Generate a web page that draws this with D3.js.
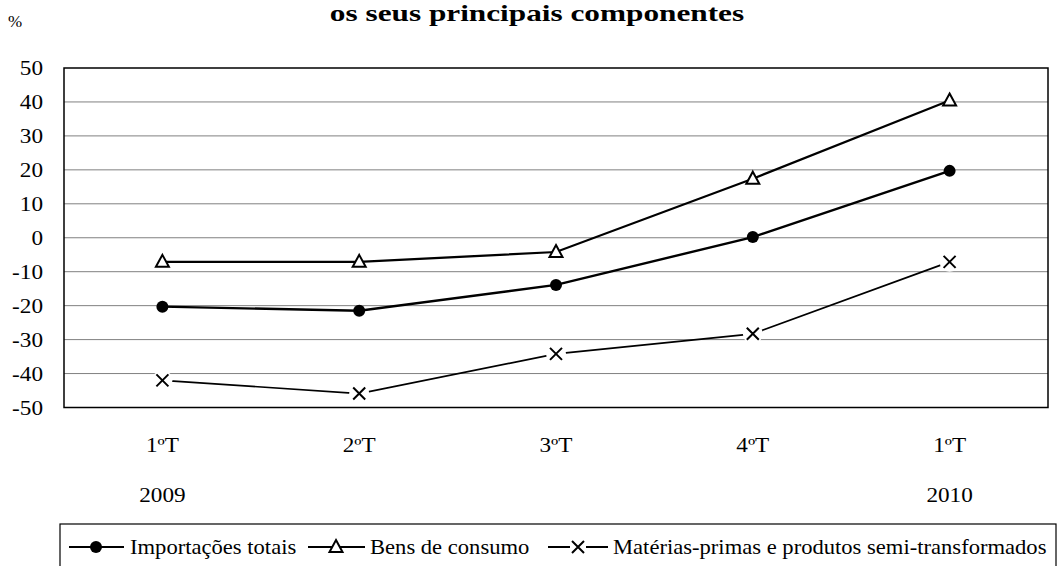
<!DOCTYPE html>
<html><head><meta charset="utf-8">
<script src="https://cdn.jsdelivr.net/npm/d3@7"></script>
<style>body{margin:0;background:#fff}svg{display:block}text{font-family:"Liberation Serif","Times New Roman",serif;fill:#000}</style>
</head><body><svg id="c" width="1059" height="566"></svg>
<script>
const quarters = ["1ºT","2ºT","3ºT","4ºT","1ºT"];
const years = ["2009","","","","2010"];
const importacoes = [-20.3,-21.5,-13.9,0.2,19.7];
const bensConsumo = [-7.1,-7.1,-4.2,17.4,40.4];
const materias = [-42.0,-45.9,-34.2,-28.3,-7.1];
const yTicks = [50,40,30,20,10,0,-10,-20,-30,-40,-50];
const seriesNames = ["Importações totais","Bens de consumo","Matérias-primas e produtos semi-transformados"];
const titleText = "os seus principais componentes";

const svg = d3.select("#c");
const L=64,R=1048,T=68,B=407.5;
const x = d3.scaleBand().domain(d3.range(quarters.length)).range([L,R]);
const cx = i => x(i)+x.bandwidth()/2;
const y = d3.scaleLinear().domain([-50,50]).range([B,T]);
const SX=1.16;

// title
svg.append("text").attr("transform",`translate(537,21) scale(1.36,1)`).attr("text-anchor","middle")
  .style("font-size","23px").style("font-weight","bold").text(titleText);
svg.append("text").attr("x",8).attr("y",27).style("font-size","17px").text("%");

// gridlines
svg.append("g").selectAll("line").data(yTicks.filter(v=>v>-50&&v<50)).join("line")
  .attr("x1",L).attr("x2",R).attr("y1",d=>y(d)).attr("y2",d=>y(d))
  .attr("stroke","#808080").attr("stroke-width",1);
// y labels
svg.append("g").selectAll("text").data(yTicks).join("text")
  .attr("transform",d=>`translate(43,${y(d)+7}) scale(${SX},1)`).attr("text-anchor","end")
  .style("font-size","20px").text(d=>d);
// x labels
svg.append("g").selectAll("text").data(quarters).join("text")
  .attr("transform",(d,i)=>`translate(${cx(i)},452) scale(${SX},1)`).attr("text-anchor","middle")
  .style("font-size","20px").text(d=>d);
svg.append("g").selectAll("text").data(years).join("text")
  .attr("transform",(d,i)=>`translate(${cx(i)},502) scale(${SX},1)`).attr("text-anchor","middle")
  .style("font-size","20px").text(d=>d);

const line = d3.line().x((d,i)=>cx(i)).y(d=>y(d));
// series lines
svg.append("path").datum(bensConsumo).attr("d",line).attr("fill","none").attr("stroke","#000").attr("stroke-width",2.2);
svg.append("path").datum(importacoes).attr("d",line).attr("fill","none").attr("stroke","#000").attr("stroke-width",2.4);
svg.append("path").datum(materias).attr("d",line).attr("fill","none").attr("stroke","#000").attr("stroke-width",1.7);

// plot border
svg.append("rect").attr("x",L).attr("y",T).attr("width",R-L).attr("height",B-T)
  .attr("fill","none").attr("stroke","#000").attr("stroke-width",1.5);

function circleMark(g,px,py){ g.append("circle").attr("cx",px).attr("cy",py).attr("r",6).attr("fill","#000"); }
function triMark(g,px,py){
  g.append("path").attr("transform",`translate(${px},${py})`).attr("d","M0,-7L6.5,5L-6.5,5Z")
   .attr("fill","#fff").attr("stroke","#000").attr("stroke-width",2);
}
function xMark(g,px,py,halo){
  if(halo) g.append("circle").attr("cx",px).attr("cy",py).attr("r",10).attr("fill","#fff");
  g.append("path").attr("transform",`translate(${px},${py})`).attr("d","M-6,-6L6,6M6,-6L-6,6")
   .attr("stroke","#000").attr("stroke-width",2).attr("fill","none");
}
const mk = svg.append("g");
materias.forEach((v,i)=>xMark(mk,cx(i),y(v),true));
importacoes.forEach((v,i)=>circleMark(mk,cx(i),y(v)));
bensConsumo.forEach((v,i)=>triMark(mk,cx(i),y(v)));

// legend
const lg = svg.append("g");
lg.append("rect").attr("x",60).attr("y",524).attr("width",996).attr("height",60)
  .attr("fill","#fff").attr("stroke","#000").attr("stroke-width",1.2);
const ly=547;
const entries=[{x0:69,x1:124,m:96,t:130,f:circleMark},{x0:308,x1:365,m:336,t:370,f:triMark},{x0:548,x1:608,m:578,t:613,f:xMark}];
entries.forEach((e,i)=>{
  lg.append("line").attr("x1",e.x0).attr("x2",e.x1).attr("y1",ly).attr("y2",ly).attr("stroke","#000").attr("stroke-width",2);
  if(i===2) lg.append("rect").attr("x",e.m-8).attr("y",ly-8).attr("width",16).attr("height",16).attr("fill","#fff");
  e.f(lg,e.m,ly);
  lg.append("text").attr("transform",`translate(${e.t},${ly+7}) scale(1.13,1)`).style("font-size","20px").text(seriesNames[i]);
});
</script></body></html>
